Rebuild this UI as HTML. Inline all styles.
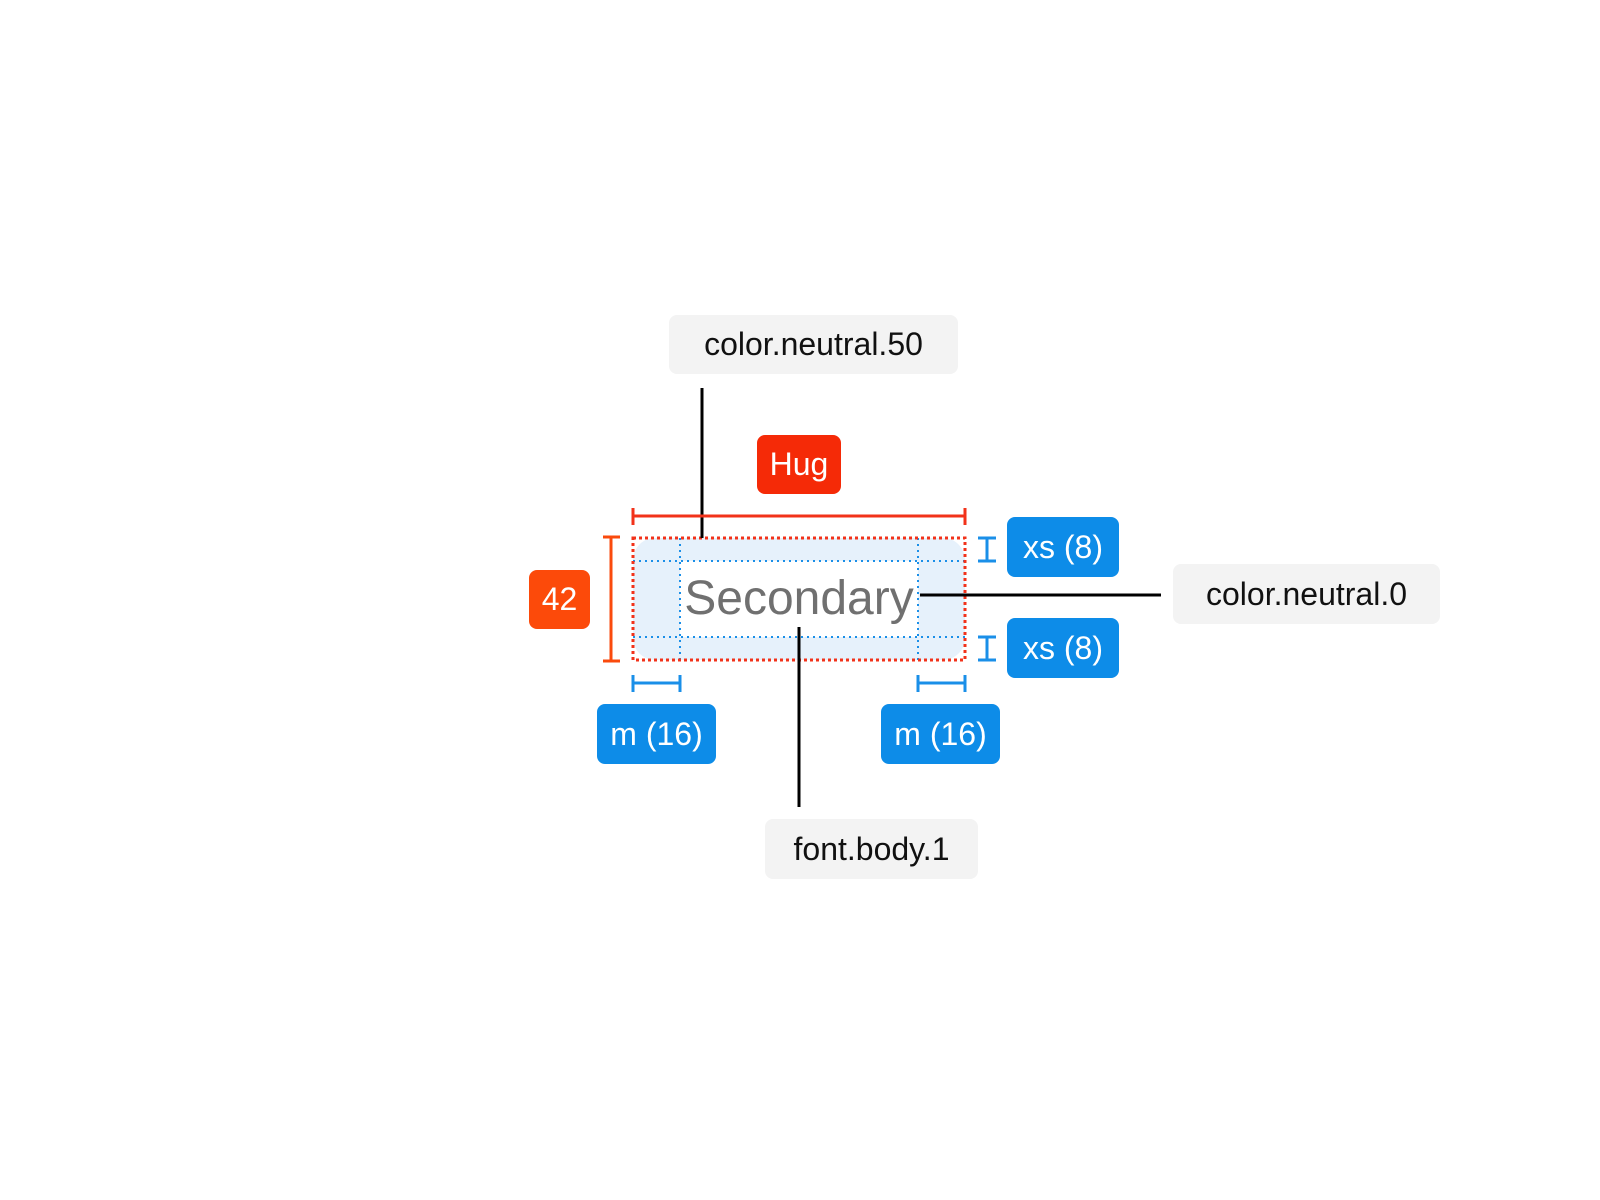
<!DOCTYPE html>
<html><head><meta charset="utf-8"><style>
html,body{margin:0;padding:0;background:#fff;}
body{width:1600px;height:1200px;position:relative;overflow:hidden;font-family:"Liberation Sans",sans-serif;}
.b{position:absolute;display:flex;align-items:center;justify-content:center;border-radius:8px;font-size:32px;}
.g{background:#f3f3f3;color:#111;}
.bl{background:#0d8ce8;color:#fff;}
</style></head><body>
<svg width="1600" height="1200" style="position:absolute;left:0;top:0">
  <!-- component -->
  <rect x="633" y="538" width="332" height="122" rx="22" fill="#e6f1fb"/>
  <rect x="680" y="561" width="238" height="76" fill="#fff"/>
  <!-- blue dotted padding guides -->
  <g stroke="#1a8fe8" stroke-width="2" stroke-dasharray="2 4" fill="none">
    <line x1="633" y1="561" x2="965" y2="561"/>
    <line x1="633" y1="637" x2="965" y2="637"/>
    <line x1="680" y1="538" x2="680" y2="660"/>
    <line x1="918" y1="538" x2="918" y2="660"/>
  </g>
  <rect x="633" y="538" width="332" height="122" fill="none" stroke="#f2321a" stroke-width="3" stroke-dasharray="3 3"/>
  <text x="799" y="614" font-family="Liberation Sans, sans-serif" font-size="48" fill="#707070" text-anchor="middle">Secondary</text>
  <!-- leaders -->
  <g stroke="#000" stroke-width="3">
    <line x1="702" y1="388" x2="702" y2="538"/>
    <line x1="799" y1="627" x2="799" y2="807"/>
    <line x1="920" y1="595" x2="1161" y2="595"/>
  </g>
  <!-- hug bracket -->
  <g stroke="#f2321a" stroke-width="3">
    <line x1="633" y1="516" x2="965" y2="516"/>
    <line x1="633" y1="508" x2="633" y2="525"/>
    <line x1="965" y1="508" x2="965" y2="525"/>
  </g>
  <!-- height bracket -->
  <g stroke="#fa4a0c" stroke-width="3">
    <line x1="611" y1="537" x2="611" y2="661"/>
    <line x1="603" y1="537" x2="620" y2="537"/>
    <line x1="603" y1="661" x2="620" y2="661"/>
  </g>
  <!-- blue brackets -->
  <g stroke="#1a8fe8" stroke-width="3">
    <line x1="633" y1="683" x2="680" y2="683"/><line x1="633" y1="675" x2="633" y2="692"/><line x1="680" y1="675" x2="680" y2="692"/>
    <line x1="918" y1="683" x2="965" y2="683"/><line x1="918" y1="675" x2="918" y2="692"/><line x1="965" y1="675" x2="965" y2="692"/>
    <line x1="987" y1="538" x2="987" y2="561"/><line x1="978" y1="538" x2="996" y2="538"/><line x1="978" y1="561" x2="996" y2="561"/>
    <line x1="987" y1="637" x2="987" y2="660"/><line x1="978" y1="637" x2="996" y2="637"/><line x1="978" y1="660" x2="996" y2="660"/>
  </g>
</svg>
<div class="b" style="left:757px;top:435px;width:84px;height:59px;background:#f52a07;color:#fff;">Hug</div>
<div class="b" style="left:529px;top:570px;width:61px;height:59px;background:#fc4a0a;color:#fff;">42</div>
<div class="b g" style="left:669px;top:315px;width:289px;height:59px;">color.neutral.50</div>
<div class="b g" style="left:1173px;top:564px;width:267px;height:60px;">color.neutral.0</div>
<div class="b g" style="left:765px;top:819px;width:213px;height:60px;">font.body.1</div>
<div class="b bl" style="left:1007px;top:517px;width:112px;height:60px;">xs (8)</div>
<div class="b bl" style="left:1007px;top:618px;width:112px;height:60px;">xs (8)</div>
<div class="b bl" style="left:597px;top:704px;width:119px;height:60px;">m (16)</div>
<div class="b bl" style="left:881px;top:704px;width:119px;height:60px;">m (16)</div>
</body></html>
